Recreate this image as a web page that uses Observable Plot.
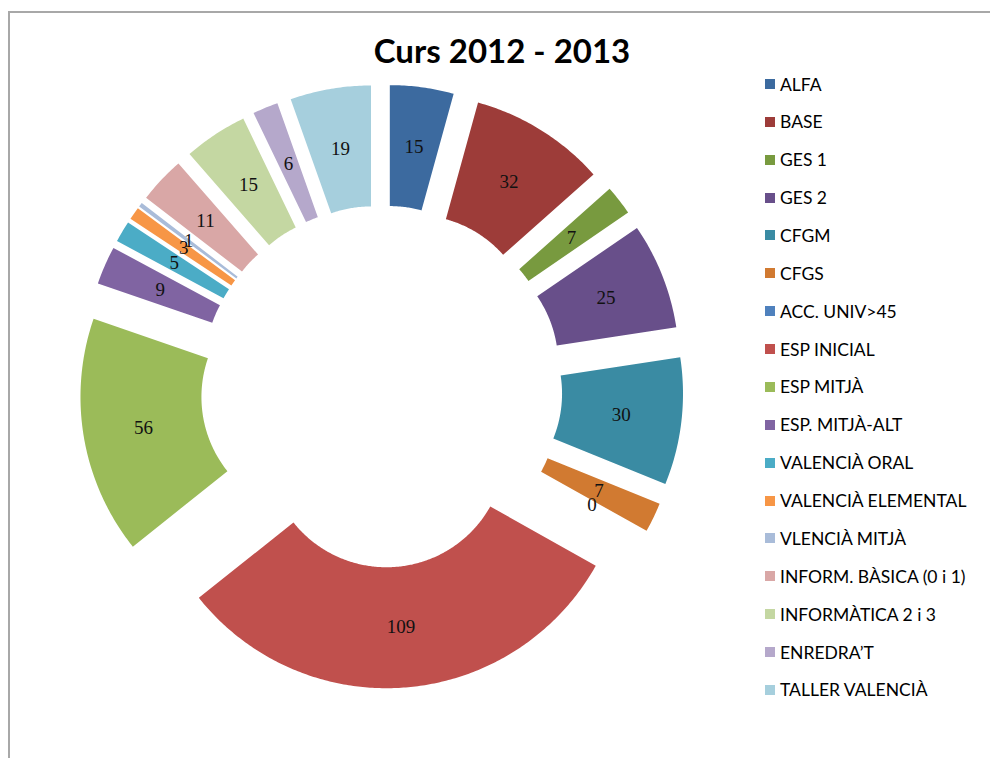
<!DOCTYPE html>
<html><head><meta charset="utf-8">
<script src="https://cdn.jsdelivr.net/npm/d3@7"></script>
<script src="https://cdn.jsdelivr.net/npm/@observablehq/plot@0.6"></script>
<style>
body{margin:0;background:#fff;}
#wrap{position:relative;width:990px;height:758px;overflow:hidden;background:#fff;}
#frame{position:absolute;left:8px;top:11px;width:1100px;height:900px;border-left:2px solid #a8a8a8;border-top:2px solid #a8a8a8;}
#title{position:absolute;left:0;width:1004px;top:30px;text-align:center;font-family:Lato,sans-serif;font-weight:700;font-size:33px;line-height:40px;color:#000;}
#chart{position:absolute;left:31px;top:56px;}
.lg{position:absolute;left:765px;height:22px;display:flex;align-items:center;font-family:Lato,sans-serif;font-size:17.5px;color:#000;white-space:nowrap;}
.lg span.sw{display:inline-block;width:10px;height:10px;margin-right:5px;}
</style>
</head><body>
<div id="wrap">
<div id="frame"></div>
<div id="title">Curs 2012 - 2013</div>
<div id="chart"></div>
<div id="legend"></div>
</div>
<script>
const titleText = "Curs 2012 - 2013";
const categories = ["ALFA","BASE","GES 1","GES 2","CFGM","CFGS","ACC. UNIV>45","ESP INICIAL","ESP MITJÀ","ESP. MITJÀ-ALT","VALENCIÀ ORAL","VALENCIÀ ELEMENTAL","VLENCIÀ MITJÀ","INFORM. BÀSICA (0 i 1)","INFORMÀTICA 2 i 3","ENREDRA’T","TALLER VALENCIÀ"];
const values = [15,32,7,25,30,7,0,109,56,9,5,3,1,11,15,6,19];
const colors = ["#3c6a9f","#9d3c39","#789a3f","#684f8a","#3a8ba3","#d17a31","#4f81bd","#c0504d","#9bbb59","#8064a2","#4bacc6","#f79646","#a9bcd9","#d9a7a6","#c4d7a2","#b5a8cb","#a6cfdd"];

// geometry (relative to outer radius = 1)
const innerR = 0.496, explode = 0.258;
const W = 700, H = 660, pxPerUnit = 240;

const pie = d3.pie().sort(null).value(d => d.value)(categories.map((name, i) => ({name, value: values[i]})));
const pts = [];
const labels = [];
pie.forEach(s => {
  const a0 = s.startAngle, a1 = s.endAngle, mid = (a0 + a1) / 2;
  const ox = Math.sin(mid) * explode, oy = Math.cos(mid) * explode;
  labels.push({name: s.data.name, value: s.data.value, x: ox + Math.sin(mid) * (1 + innerR) / 2, y: oy + Math.cos(mid) * (1 + innerR) / 2});
  if (s.value <= 0) return;
  const n = Math.max(4, Math.ceil((a1 - a0) / 0.01));
  for (let k = 0; k <= n; k++) { const a = a0 + (a1 - a0) * k / n; pts.push({name: s.data.name, x: ox + Math.sin(a), y: oy + Math.cos(a)}); }
  for (let k = n; k >= 0; k--) { const a = a0 + (a1 - a0) * k / n; pts.push({name: s.data.name, x: ox + Math.sin(a) * innerR, y: oy + Math.cos(a) * innerR}); }
});

const hx = W / 2 / pxPerUnit, hy = H / 2 / pxPerUnit;
const chart = Plot.plot({
  width: W, height: H, margin: 0,
  x: {domain: [-hx, hx], axis: null},
  y: {domain: [-hy, hy], axis: null},
  color: {domain: categories, range: colors},
  marks: [
    Plot.line(pts, {x: "x", y: "y", z: "name", fill: "name", stroke: "none", curve: "linear"}),
    Plot.text(labels, {x: "x", y: "y", text: d => String(d.value), fill: "#111", fontSize: 19, fontFamily: "Liberation Serif, serif"})
  ]
});
document.getElementById("chart").appendChild(chart);

const leg = document.getElementById("legend");
categories.forEach((c, i) => {
  const row = document.createElement("div");
  row.className = "lg";
  row.style.top = (84 + i * 37.87 - 11) + "px";
  row.innerHTML = `<span class="sw" style="background:${colors[i]}"></span>`;
  row.appendChild(document.createTextNode(c));
  leg.appendChild(row);
});
</script>
</body></html>
